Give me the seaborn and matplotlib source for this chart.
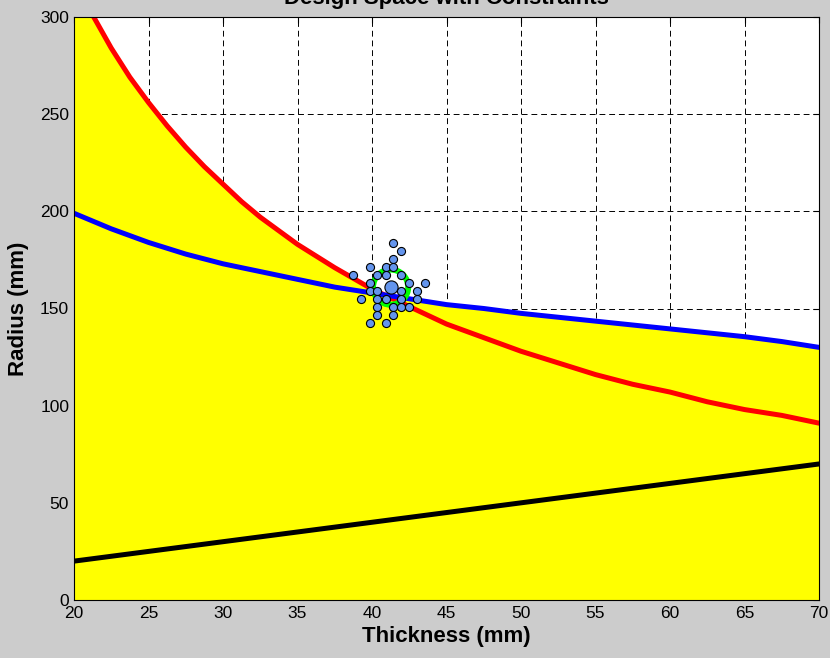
import numpy as np
import matplotlib
matplotlib.use("Agg")
import matplotlib.pyplot as plt
import seaborn as sns

# Thickness grid (mm) used for the blue and black constraint curves
thickness = [20, 22.5, 25, 27.5, 30, 32.5, 35, 37.5, 40, 42.5, 45,
             47.5, 50, 52.5, 55, 57.5, 60, 62.5, 65, 67.5, 70]
blue_radius = [199, 191, 184, 178, 173, 169, 165, 161, 158, 155, 152,
               150, 147.5, 145.5, 143.5, 141.5, 139.5, 137.5, 135.5, 133, 130]
black_radius = [20, 22.5, 25, 27.5, 30, 32.5, 35, 37.5, 40, 42.5, 45,
                47.5, 50, 52.5, 55, 57.5, 60, 62.5, 65, 67.5, 70]

# red curve is steep on the left, so it is read more densely there
red_t = [20, 21.25, 22.5, 23.75, 25, 26.25, 27.5, 28.75, 30, 31.25, 32.5, 33.75,
         35, 37.5, 40, 42.5, 45, 47.5, 50, 52.5, 55, 57.5, 60, 62.5, 65, 67.5, 70]
red_radius = [320, 301, 284, 269, 256, 244, 233, 223, 214, 205, 197, 190,
              183, 171, 160, 151, 142, 135, 128, 122, 116, 111, 107, 102, 98, 95, 91]

# Sampled designs around the optimum
sample_t = [41.43, 41.96, 41.43, 39.84, 40.91, 41.43, 38.75, 40.36, 40.91, 41.96,
            39.84, 42.5, 43.59, 39.84, 40.36, 41.96, 43.04, 39.28, 40.36, 40.91,
            41.96, 43.04, 40.36, 41.43, 41.96, 42.5, 40.36, 41.43, 39.84, 40.91]
sample_r = [183.9, 179.6, 175.7, 171.4, 171.4, 171.4, 167.3, 167.3, 167.3, 167.3,
            163.2, 163.2, 163.2, 159.0, 159.0, 159.0, 159.0, 154.9, 154.9, 154.9,
            154.9, 154.9, 150.6, 150.6, 150.6, 150.6, 146.5, 146.5, 142.4, 142.4]
optimum_t = [41.25]
optimum_r = [161.0]

sns.set_style("white")
plt.rcParams['font.family'] = ['Liberation Sans', 'DejaVu Sans']
plt.rcParams['text.color'] = 'black'
plt.rcParams['axes.labelcolor'] = 'black'

fig = plt.figure(figsize=(8.3, 6.58), dpi=100, facecolor="#cccccc")
ax = fig.add_axes([74 / 830, 58 / 658, 745 / 830, 583 / 658])
ax.set_facecolor("white")

# infeasible region: below the higher of the two constraints
upper = np.maximum(np.interp(red_t, thickness, blue_radius), red_radius)
ax.fill_between(red_t, 0, upper, color="#ffff00", linewidth=0, zorder=1)

sns.lineplot(x=red_t, y=red_radius, color="#ff0000", linewidth=3.6, ax=ax, zorder=2)
sns.lineplot(x=thickness, y=blue_radius, color="#0000ff", linewidth=3.6, ax=ax, zorder=2)
sns.lineplot(x=thickness, y=black_radius, color="black", linewidth=3.6, ax=ax, zorder=2)

# green ring around the optimum
ax.scatter(optimum_t, optimum_r, s=640, facecolors="none", edgecolors="#00ff00",
           linewidths=4.3, zorder=3)
sns.scatterplot(x=sample_t, y=sample_r, s=34, color="#6495ed", edgecolor="black",
                linewidth=0.8, ax=ax, zorder=4)
sns.scatterplot(x=optimum_t, y=optimum_r, s=90, color="#6495ed", edgecolor="black",
                linewidth=0.8, ax=ax, zorder=5)

ax.set_xlim(20, 70)
ax.set_ylim(0, 300)
ax.set_xticks(np.arange(20, 71, 5))
ax.set_yticks(np.arange(0, 301, 50))
ax.grid(True, color="black", linestyle=(0, (6, 4)), linewidth=0.7)
ax.set_axisbelow(True)
ax.tick_params(direction="in", top=True, right=True, length=4, labelsize=12.5,
               colors="black")
ax.tick_params(axis="x", pad=4)
for s in ax.spines.values():
    s.set_color("black")
    s.set_linewidth(0.8)

ax.set_xlabel("Thickness (mm)", fontsize=16, fontweight="bold", labelpad=4)
ax.set_ylabel("Radius (mm)", fontsize=16, fontweight="bold", labelpad=8)
ax.set_title("Design Space with Constraints", fontsize=16, fontweight="bold", pad=9.5)

fig.savefig("out.png", dpi=100, facecolor=fig.get_facecolor())
